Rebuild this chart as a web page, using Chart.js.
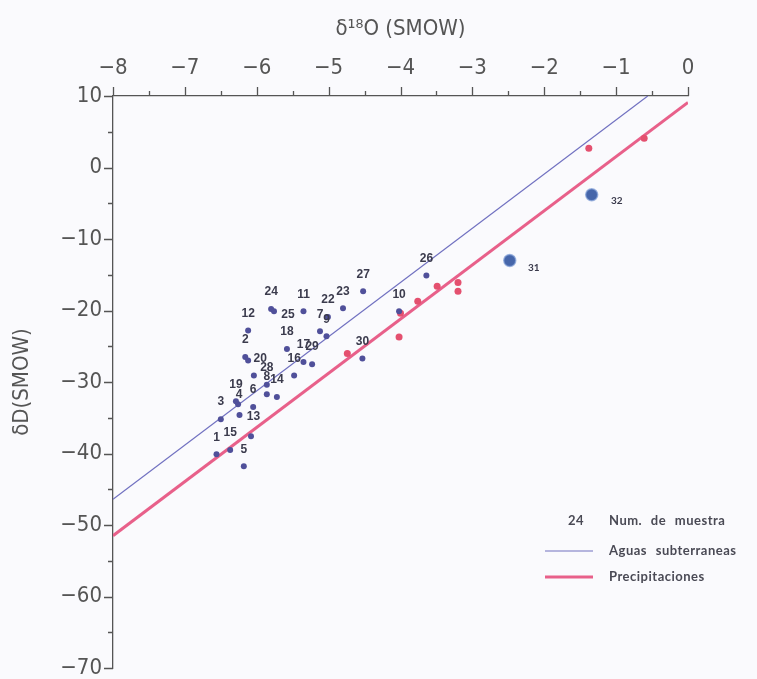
<!DOCTYPE html>
<html>
<head>
<meta charset="utf-8">
<script src="https://cdn.jsdelivr.net/npm/chart.js@4.4.1/dist/chart.umd.min.js"></script>
<style>
  html,body{margin:0;padding:0;background:#fafafd;}
  #wrap{width:757px;height:679px;}
</style>
</head>
<body>
<div id="wrap"><canvas id="c" width="757" height="679"></canvas></div>
<script>
// muestras de aguas subterraneas (d18O, dD)
const sampleIds = ['1','2','3','4','5','6','7','8','9','10','11','12','13','14','15','16','17','18','19','20','22','23','24','25','26','27','28','29','30','',''];
const sampleO = [-6.56,-6.16,-6.50,-6.26,-6.18,-6.05,-5.12,-5.86,-5.03,-4.02,-5.35,-6.12,-6.24,-5.72,-6.37,-5.48,-5.35,-5.58,-6.29,-6.12,-5.01,-4.80,-5.80,-5.76,-3.64,-4.52,-5.86,-5.23,-4.53,-6.08,-6.04];
const sampleD = [-40.1,-26.5,-35.2,-33.1,-41.8,-33.5,-22.9,-31.7,-23.6,-20.1,-20.1,-22.8,-34.6,-32.1,-39.5,-29.1,-27.2,-25.4,-32.7,-27.0,-20.9,-19.7,-19.8,-20.1,-15.1,-17.3,-30.4,-27.5,-26.7,-37.6,-29.1];

// muestras 31 y 32
const bigIds = ['31','32'];
const bigO = [-2.48,-1.34];
const bigD = [-13.0,-3.8];

// precipitaciones
const rainO = [-4.74,-4.02,-4.00,-3.76,-3.49,-3.20,-3.20,-1.38,-0.61];
const rainD = [-26.0,-23.7,-20.4,-18.7,-16.6,-16.1,-17.3,2.7,4.1];

// rectas
const aguasO = [-8,-0.56];
const aguasD = [-46.4,10];
const precipO = [-8,0];
const precipD = [-51.5,9.1];

const xTicks = {min:-8, max:0, step:1};
const yTicks = {min:-70, max:10, step:10};

const F = '"Liberation Sans Narrow","DejaVu Sans Condensed","Liberation Sans",sans-serif';
const AXIS = '#555';
const pts = (xs, ys) => xs.map((v,i)=>({x:v, y:ys[i]}));
const minus = v => (v<0 ? '\u2212' + Math.abs(v) : String(v));

// label placement, default centred above the dot
const labelOffsets = {'4':[1,-9],'13':[14,2],'20':[12,-2],'25':[14,3],'31':[24,7],'32':[25,6]};

const pointLabels = {
  id:'pointLabels',
  afterDatasetsDraw(chart){
    const ctx = chart.ctx;
    ctx.save();
    ctx.fillStyle = '#3b3b4d';
    ctx.textAlign = 'center';
    ctx.textBaseline = 'middle';
    [[0, sampleIds, 'bold 12px "Liberation Sans",Arial,sans-serif'],
     [1, bigIds, 'bold 10px Lato,"DejaVu Sans",sans-serif']].forEach(([di, ids, font])=>{
      ctx.font = font;
      chart.getDatasetMeta(di).data.forEach((p,i)=>{
        const id = ids[i];
        if(!id) return;
        const off = labelOffsets[id] || [0,-17];
        ctx.fillText(id, p.x+off[0], p.y+off[1]);
      });
    });
    ctx.restore();
  }
};

const tickMarks = {
  id:'tickMarks',
  afterDraw(chart){
    const {ctx, chartArea:a, scales:{x,y}} = chart;
    ctx.save();
    ctx.strokeStyle = AXIS;
    ctx.lineWidth = 1.3;
    ctx.beginPath();
    for(let v=x.min; v<=x.max+1e-9; v+=0.5){
      const px = Math.round(x.getPixelForValue(v))+0.5;
      const len = Number.isInteger(v) ? 9 : 5;
      ctx.moveTo(px, a.top); ctx.lineTo(px, a.top-len);
    }
    for(let v=y.min; v<=y.max+1e-9; v+=5){
      const py = Math.round(y.getPixelForValue(v))+0.5;
      const len = v%10===0 ? 9 : 5;
      ctx.moveTo(a.left, py); ctx.lineTo(a.left-len, py);
    }
    ctx.stroke();
    ctx.restore();
  }
};

// leyenda abajo a la derecha
const legendBox = {
  id:'legendBox',
  afterDraw(chart){
    const {ctx, chartArea:a} = chart;
    const x0 = a.right-143, x1 = a.right-95, tx = a.right-79;
    const rows = [a.bottom-147, a.bottom-117, a.bottom-91];
    ctx.save();
    ctx.font = 'bold 13px Lato,"DejaVu Sans",sans-serif';
    ctx.letterSpacing = '0.5px';
    ctx.wordSpacing = '5px';
    ctx.fillStyle = '#4a4a55';
    ctx.textBaseline = 'middle';
    ctx.textAlign = 'right';
    ctx.fillText('24', x1-9, rows[0]);
    ctx.textAlign = 'left';
    ctx.fillText('Num. de muestra', tx, rows[0]);
    ctx.fillText('Aguas subterraneas', tx, rows[1]);
    ctx.fillText('Precipitaciones', tx, rows[2]);
    ctx.lineWidth = 1.2; ctx.strokeStyle = '#7070c0';
    ctx.beginPath(); ctx.moveTo(x0, rows[1]); ctx.lineTo(x1, rows[1]); ctx.stroke();
    ctx.lineWidth = 3; ctx.strokeStyle = '#e8608a';
    ctx.beginPath(); ctx.moveTo(x0, rows[2]); ctx.lineTo(x1, rows[2]); ctx.stroke();
    ctx.restore();
  }
};

new Chart(document.getElementById('c'), {
  type:'scatter',
  data:{
    datasets:[
      {label:'Muestras', data:pts(sampleO, sampleD), pointRadius:3, pointBackgroundColor:'#50509a', pointBorderWidth:0, order:0},
      {label:'Muestras 31-32', data:pts(bigO, bigD), pointRadius:6, pointBackgroundColor:'#4666aa', pointBorderColor:'rgba(130,160,215,0.7)', pointBorderWidth:1.5, order:0},
      {label:'Precipitaciones', data:pts(rainO, rainD), pointRadius:3.5, pointBackgroundColor:'#e4506f', pointBorderWidth:0, order:0},
      {label:'Aguas subterraneas', data:pts(aguasO, aguasD), showLine:true, pointRadius:0, borderColor:'#7070c0', borderWidth:1.2, order:1},
      {label:'Recta precipitaciones', data:pts(precipO, precipD), showLine:true, pointRadius:0, borderColor:'#e8608a', borderWidth:3, order:1}
    ]
  },
  options:{
    responsive:false,
    animation:false,
    layout:{padding:{left:0, top:0, right:69, bottom:11}},
    plugins:{legend:{display:false}, tooltip:{enabled:false}},
    scales:{
      x:{
        type:'linear', position:'top', min:xTicks.min, max:xTicks.max,
        afterFit(s){ s.height = 96; s.paddingLeft = 0; s.paddingRight = 0; },
        grid:{display:false},
        border:{display:true, color:AXIS, width:1.3},
        ticks:{stepSize:xTicks.step, autoSkip:false, maxRotation:0, padding:7, color:AXIS, font:{family:F, size:22}, callback:v=>minus(v)},
        title:{display:true, text:'\u03b4\u00b9\u2078O (SMOW)', color:AXIS, font:{family:F, size:22}, padding:{top:16, bottom:0}}
      },
      y:{
        type:'linear', min:yTicks.min, max:yTicks.max,
        afterFit(s){ s.width = 113; s.paddingTop = 0; s.paddingBottom = 0; },
        grid:{display:false},
        border:{display:true, color:AXIS, width:1.3},
        ticks:{stepSize:yTicks.step, autoSkip:false, padding:3, color:AXIS, font:{family:F, size:22}, callback:v=>minus(v)},
        title:{display:true, text:'\u03b4D(SMOW)', color:AXIS, font:{family:F, size:22}, padding:{top:9, bottom:0}}
      }
    }
  },
  plugins:[tickMarks, pointLabels, legendBox]
});
</script>
</body>
</html>
